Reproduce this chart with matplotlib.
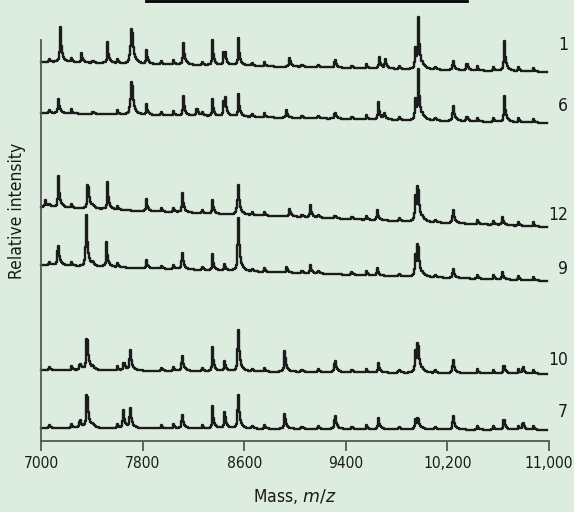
import numpy as np
import matplotlib.pyplot as plt
from matplotlib.lines import Line2D
from matplotlib import font_manager

# spectra: (m/z, peak height above baseline, in px)
labels = ['1', '6', '12', '9', '10', '7']
base_left = [379, 328, 234, 176, 71, 13]
base_right = [369, 318, 214, 160, 67, 11]
label_y = [45, 106, 215, 269, 360, 412]

peaks_1 = [(7150, 43), (7320, 10), (7520, 21), (7700, 18), (7714, 50), (7832, 14),
           (8118, 27), (8352, 25), (8440, 12), (8455, 12), (8551, 31), (8961, 12),
           (9315, 12), (9662, 14), (9709, 12), (9950, 25), (9975, 55), (10244, 14),
           (10354, 11), (10646, 37)]
peaks_6 = [(7134, 18), (7700, 15), (7714, 47), (7832, 11), (8118, 24), (8226, 12),
           (8352, 17), (8440, 14), (8455, 18), (8551, 25), (8934, 9), (9315, 10),
           (9654, 21), (9700, 9), (9950, 25), (9975, 53), (10244, 23), (10354, 8),
           (10646, 32)]
peaks_12 = [(7030, 8), (7134, 38), (7370, 40), (7520, 27), (7832, 12), (8110, 24),
            (8352, 14), (8540, 14), (8551, 28), (8961, 10), (9118, 15), (9315, 5),
            (9646, 12), (9950, 30), (9970, 50), (10244, 20), (10630, 10)]
peaks_9 = [(7131, 32), (7350, 14), (7360, 46), (7512, 25), (7832, 8), (8108, 24),
           (8352, 16), (8449, 8), (8545, 22), (8551, 47), (8937, 7), (9118, 10),
           (9646, 9), (9950, 25), (9970, 48), (10244, 13), (10630, 9)]
peaks_10 = [(7307, 10), (7362, 53), (7650, 13), (7700, 30), (8108, 22), (8352, 24),
            (8449, 13), (8545, 20), (8551, 35), (8921, 27), (9315, 19), (9654, 12),
            (9950, 25), (9970, 42), (10244, 19), (10642, 13), (10795, 10)]
peaks_7 = [(7307, 12), (7362, 55), (7645, 24), (7700, 29), (8108, 20), (8352, 23),
           (8449, 22), (8545, 18), (8551, 27), (8921, 20), (9315, 21), (9654, 14),
           (9950, 12), (9970, 16), (10244, 20), (10642, 17), (10795, 11)]
all_peaks = [peaks_1, peaks_6, peaks_12, peaks_9, peaks_10, peaks_7]

# small ripples along every baseline
minor = [7060, 7240, 7410, 7600, 7950, 8040, 8270, 8660, 8760, 9050, 9180,
         9450, 9560, 9820, 10100, 10440, 10560, 10760, 10880]
minor_h = 4

xticks = [7000, 7800, 8600, 9400, 10200, 11000]
xticklabels = ['7000', '7800', '8600', '9400', '10,200', '11,000']

bg = '#dcede0'
ink = '#1c1c1c'

# pick a narrow face if the box has one
fonts = font_manager.fontManager.ttflist
if any(f.name == 'Liberation Sans Narrow' for f in fonts):
    fkw = dict(family='Liberation Sans Narrow')
    fs, fs_tick = 13.5, 13
elif any(f.name == 'DejaVu Sans' and f.stretch == 'condensed' for f in fonts):
    fkw = dict(family='DejaVu Sans', stretch='condensed')
    fs, fs_tick = 12.5, 11.2
else:
    fkw = dict(family='Liberation Sans')
    fs, fs_tick = 11.5, 11

mass = np.arange(7000, 10985, 8)


def spectrum(peaks, b0, b1):
    y = b0 + (b1 - b0) * (mass - mass[0]) / (mass[-1] - mass[0])
    pk = list(peaks) + [(m, minor_h) for m in minor]
    for m, h in pk:
        d = mass - m
        sharp = np.where(d < 0, np.exp(d / 3.0), np.exp(-d / 8.0))
        tail = np.where(d < 0, np.exp(d / 6.0), np.exp(-d / 35.0))
        broad = np.exp(-np.abs(d) / 22.0)
        y = y + h * (0.75 * sharp + 0.15 * tail + 0.1 * broad)
    return y


fig = plt.figure(figsize=(5.74, 5.12), dpi=100, facecolor=bg)
ax = fig.add_axes([41 / 574, 1 - 441 / 512, 508 / 574, 401 / 512])
ax.set_facecolor(bg)

for pk, b0, b1 in zip(all_peaks, base_left, base_right):
    ax.plot(mass, spectrum(pk, b0, b1), drawstyle='steps-mid', color=ink,
            lw=1.7, clip_on=False)

ax.set_xlim(7000, 11000)
ax.set_ylim(0, 401)
ax.set_yticks([])
ax.set_xticks(xticks)
ax.set_xticklabels(xticklabels, fontsize=fs_tick, **fkw)
ax.tick_params(axis='x', direction='out', length=7, width=1.3, color='#555555',
               pad=4, labelcolor='#1a1a1a')
for s in ['top', 'right']:
    ax.spines[s].set_visible(False)
for s in ['left', 'bottom']:
    ax.spines[s].set_color('#555555')
    ax.spines[s].set_linewidth(1.3)

for lab, ypx in zip(labels, label_y):
    fig.text(568 / 574, 1 - ypx / 512, lab, ha='right', va='center',
             fontsize=fs, color='#1a1a1a', **fkw)

fig.text(17 / 574, 1 - 211 / 512, 'Relative intensity', rotation=90,
         ha='center', va='center', fontsize=fs, color='#1a1a1a', **fkw)
fig.text(295 / 574, 1 - 497 / 512, 'Mass, $m/z$', ha='center', va='center',
         fontsize=fs, color='#1a1a1a', **fkw)

fig.add_artist(Line2D([146 / 574, 467 / 574], [1 - 0.8 / 512] * 2,
                      color='black', lw=2))

fig.savefig('out.png', dpi=100, facecolor=bg)
